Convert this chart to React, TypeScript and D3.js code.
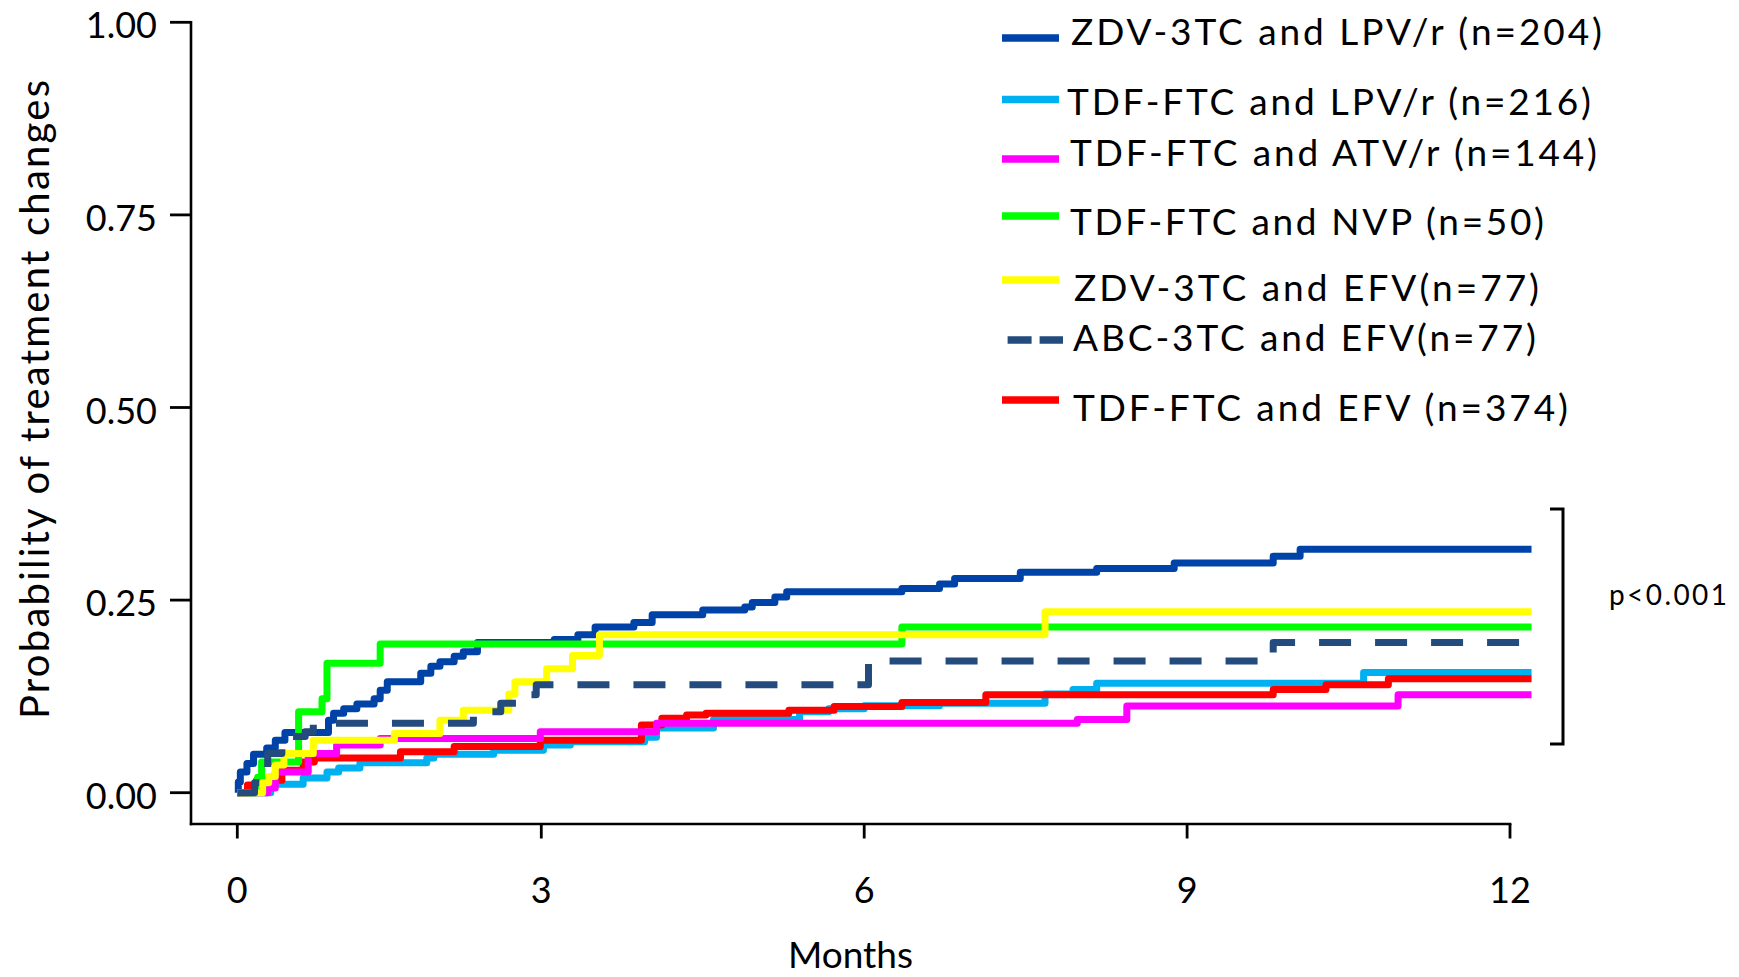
import React from 'react';
import * as d3 from 'd3';

type Pt = [number, number];

// Axis ticks
const MONTH_TICKS = [0, 3, 6, 9, 12];
const PROB_TICKS = [0, 0.25, 0.5, 0.75, 1];
const PROB_TICK_LABELS = ['0.00', '0.25', '0.50', '0.75', '1.00'];
const END_OF_FOLLOW_UP = 12.2;

// Cumulative probability of treatment change, [month, probability] at each step
const zdvLpv: Pt[] = [
  [0, 0], [0.01, 0.014], [0.03, 0.027], [0.095, 0.038], [0.16, 0.05], [0.29, 0.058],
  [0.375, 0.068], [0.47, 0.078], [0.9, 0.094], [0.95, 0.103], [1.05, 0.109], [1.18, 0.115],
  [1.35, 0.122], [1.41, 0.133], [1.48, 0.144], [1.81, 0.155], [1.91, 0.164], [2.0, 0.17],
  [2.14, 0.177], [2.23, 0.183], [2.37, 0.195], [3.12, 0.199], [3.34, 0.205], [3.5, 0.215],
  [3.86, 0.221], [4.03, 0.231], [4.5, 0.237], [4.89, 0.241], [4.96, 0.247], [5.17, 0.254],
  [5.28, 0.261], [6.35, 0.265], [6.7, 0.271], [6.84, 0.278], [7.45, 0.286], [8.16, 0.291],
  [8.88, 0.298], [9.8, 0.307], [10.05, 0.316],
];

const tdfLpv: Pt[] = [
  [0, 0], [0.33, 0.011], [0.65, 0.019], [0.885, 0.027], [1.0, 0.032], [1.21, 0.039],
  [1.87, 0.045], [1.94, 0.05], [2.53, 0.055], [3.02, 0.062], [3.27, 0.066], [3.96, 0.072],
  [4.07, 0.084], [4.6, 0.095], [5.4, 0.105], [5.67, 0.109], [6.0, 0.113], [6.7, 0.116],
  [7.68, 0.128], [7.94, 0.134], [8.16, 0.142], [10.64, 0.156],
];

const tdfAtv: Pt[] = [
  [0, 0], [0.3, 0.006], [0.375, 0.027], [0.7, 0.051], [0.98, 0.062], [1.41, 0.0705],
  [2.99, 0.079], [4.07, 0.09], [7.98, 0.095], [8.44, 0.1125], [10.96, 0.127],
];

const tdfNvp: Pt[] = [
  [0, 0], [0.2, 0.02], [0.24, 0.04], [0.605, 0.105], [0.836, 0.122], [0.885, 0.168],
  [1.41, 0.193], [6.35, 0.215],
];

const zdvEfv: Pt[] = [
  [0, 0], [0.25, 0.013], [0.31, 0.021], [0.375, 0.036], [0.46, 0.051], [0.75, 0.068],
  [1.55, 0.077], [2.0, 0.094], [2.23, 0.107], [2.68, 0.128], [2.74, 0.144], [3.05, 0.161],
  [3.29, 0.178], [3.54, 0.205], [7.68, 0.235],
];

const abcEfv: Pt[] = [
  [0, 0], [0.17, 0.013], [0.23, 0.029], [0.3, 0.051], [0.44, 0.073], [0.67, 0.079],
  [0.75, 0.09], [2.33, 0.105], [2.6, 0.116], [2.81, 0.127], [2.95, 0.14], [6.04, 0.171],
  [9.8, 0.195],
];

const tdfEfv: Pt[] = [
  [0, 0], [0.1, 0.01], [0.19, 0.016], [0.44, 0.029], [0.65, 0.04], [0.76, 0.045],
  [1.61, 0.053], [2.14, 0.06], [2.99, 0.068], [3.93, 0.088], [4.12, 0.0965], [4.35, 0.101],
  [4.53, 0.103], [5.3, 0.107], [5.72, 0.112], [6.35, 0.117], [7.13, 0.127], [9.8, 0.134],
  [10.29, 0.14], [10.87, 0.148],
];

interface Series {
  label: string;
  color: string;
  dashed: boolean;
  data: Pt[];
}

// Legend order
const SERIES: Series[] = [
  { label: 'ZDV-3TC and LPV/r (n=204)', color: '#0043a8', dashed: false, data: zdvLpv },
  { label: 'TDF-FTC and LPV/r (n=216)', color: '#00b0f0', dashed: false, data: tdfLpv },
  { label: 'TDF-FTC and ATV/r (n=144)', color: '#ff00ff', dashed: false, data: tdfAtv },
  { label: 'TDF-FTC and NVP (n=50)', color: '#00ff00', dashed: false, data: tdfNvp },
  { label: 'ZDV-3TC and EFV(n=77)', color: '#ffff00', dashed: false, data: zdvEfv },
  { label: 'ABC-3TC and EFV(n=77)', color: '#234b7e', dashed: true, data: abcEfv },
  { label: 'TDF-FTC and EFV (n=374)', color: '#ff0000', dashed: false, data: tdfEfv },
];

// Painting order of the curves (bottom to top), as indices into SERIES
const DRAW_ORDER = [1, 6, 2, 0, 3, 4, 5];

// Legend row layout
const LEGEND_LINE_Y = [38, 99.6, 159, 216, 280, 340, 400];
const LEGEND_TEXT_Y = [45, 115, 166, 235, 300.7, 351, 420.7];
const LEGEND_TEXT_X = [1071, 1067, 1070, 1070, 1074, 1073, 1073];
const LEGEND_TEXT_W = [531, 524, 527, 474, 465, 463, 495];

const W = 1739;
const H = 977;
const AXIS_X = 191;
const AXIS_Y = 824;
const FONT = "Lato, 'Open Sans', sans-serif";

export default function App() {
  const x = d3.scaleLinear().domain([0, 3, 12]).range([237.3, 541.3, 1510]);
  const y = d3.scaleLinear().domain([0, 1]).range([792.7, 22.3]);

  const line = d3
    .line<Pt>()
    .x((d) => x(d[0]))
    .y((d) => y(d[1]))
    .curve(d3.curveStepAfter);

  const pathFor = (s: Series) => {
    const last = s.data[s.data.length - 1];
    return line([...s.data, [END_OF_FOLLOW_UP, last[1]]]) ?? '';
  };

  return (
    <svg
      width={W}
      height={H}
      viewBox={`0 0 ${W} ${H}`}
      style={{ position: 'absolute', left: 0, top: 0, background: '#fff' }}
      fontFamily={FONT}
    >
      <rect x={0} y={0} width={W} height={H} fill="#fff" />

      {/* Axes */}
      <line x1={AXIS_X} y1={y(1) - 1.2} x2={AXIS_X} y2={AXIS_Y + 1.2} stroke="#000" strokeWidth={2.6} />
      <line x1={AXIS_X - 1.2} y1={AXIS_Y} x2={x(12) + 1.4} y2={AXIS_Y} stroke="#000" strokeWidth={2.6} />

      {PROB_TICKS.map((t, i) => (
        <g key={`py${t}`}>
          <line x1={AXIS_X - 21} x2={AXIS_X} y1={y(t)} y2={y(t)} stroke="#000" strokeWidth={2.8} />
          <text x={157} y={y(t) + 16} textAnchor="end" fontSize={36} fill="#000">
            {PROB_TICK_LABELS[i]}
          </text>
        </g>
      ))}

      {MONTH_TICKS.map((t) => (
        <g key={`mx${t}`}>
          <line x1={x(t)} x2={x(t)} y1={AXIS_Y} y2={AXIS_Y + 14.5} stroke="#000" strokeWidth={2.8} />
          <text x={x(t)} y={903} textAnchor="middle" fontSize={36} fill="#000">
            {t}
          </text>
        </g>
      ))}

      <text x={(AXIS_X + x(12)) / 2} y={968} textAnchor="middle" fontSize={37} fill="#000">
        Months
      </text>

      <text
        transform={`translate(49, ${(y(0) + y(1)) / 2 - 8}) rotate(-90)`}
        textAnchor="middle"
        fontSize={40}
        fill="#000"
        textLength={639}
        lengthAdjust="spacing"
      >
        Probability of treatment changes
      </text>

      {/* Curves */}
      {DRAW_ORDER.map((idx) => {
        const s = SERIES[idx];
        return (
          <path
            key={s.label}
            d={pathFor(s)}
            fill="none"
            stroke={s.color}
            strokeWidth={7}
            strokeLinejoin="round"
            strokeLinecap="butt"
            strokeDasharray={s.dashed ? '32 24' : undefined}
          />
        );
      })}

      {/* Legend */}
      {SERIES.map((s, i) => (
        <g key={`lg${i}`}>
          <line
            x1={s.dashed ? 1007.6 : 1002}
            x2={s.dashed ? 1063 : 1059}
            y1={LEGEND_LINE_Y[i]}
            y2={LEGEND_LINE_Y[i]}
            stroke={s.color}
            strokeWidth={7.5}
            strokeDasharray={s.dashed ? '24 8' : undefined}
          />
          <text
            x={LEGEND_TEXT_X[i]}
            y={LEGEND_TEXT_Y[i]}
            fontSize={37}
            fill="#000"
            textLength={LEGEND_TEXT_W[i]}
            lengthAdjust="spacing"
          >
            {s.label}
          </text>
        </g>
      ))}

      {/* Significance bracket */}
      <path d="M1550,509 H1563 V744 H1550" fill="none" stroke="#000" strokeWidth={3} />
      <text x={1609} y={605} fontSize={28} fill="#000" textLength={118} lengthAdjust="spacing">
        p&lt;0.001
      </text>
    </svg>
  );
}
